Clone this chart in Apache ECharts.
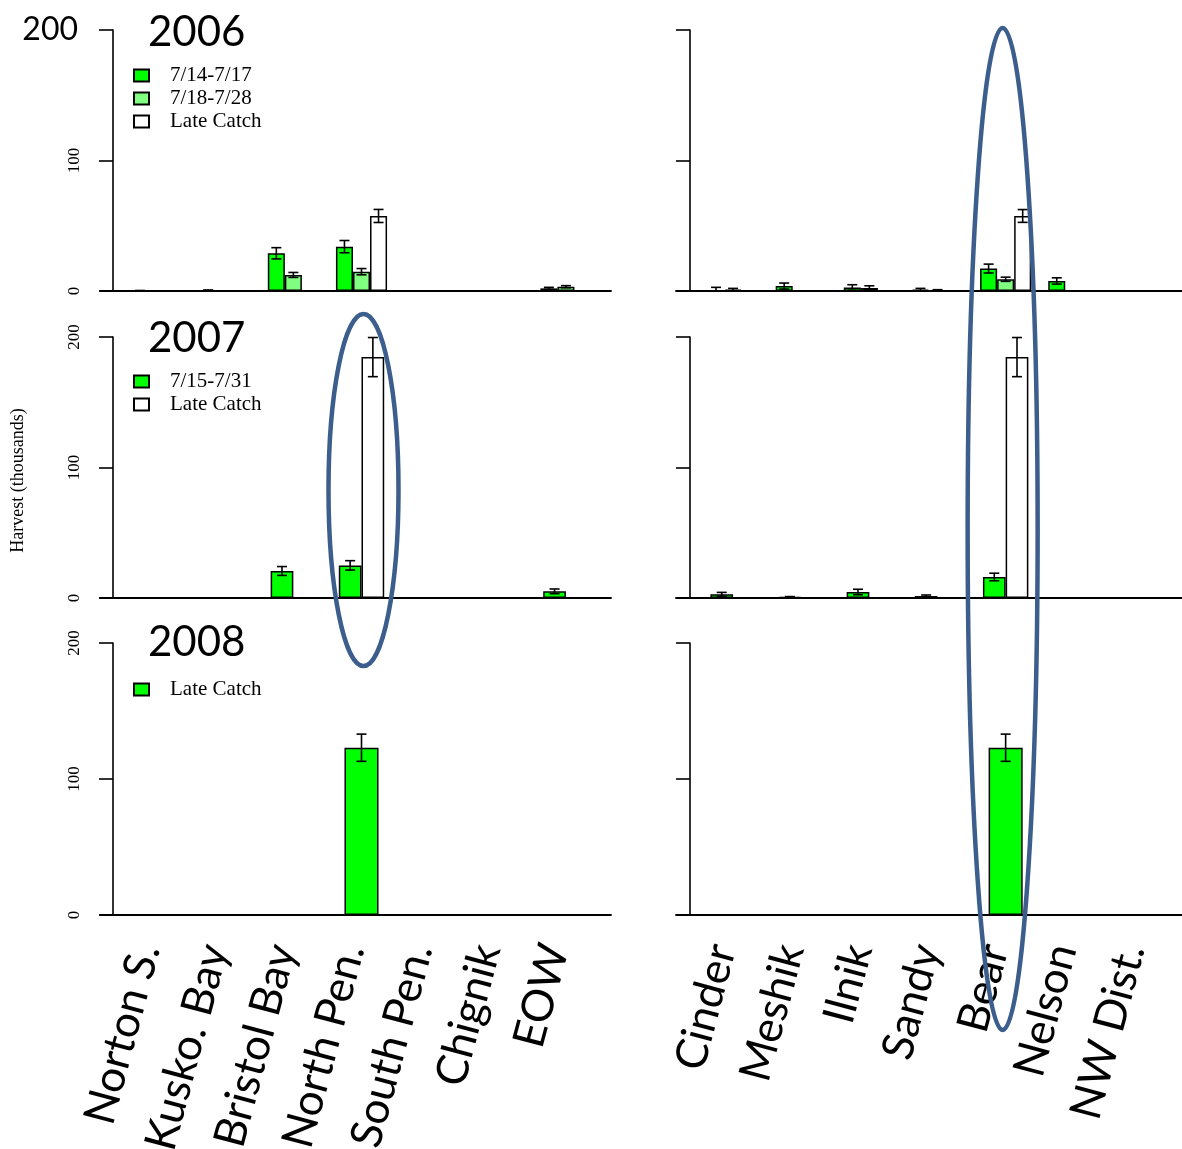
<!DOCTYPE html>
<html>
<head>
<meta charset="utf-8">
<script src="https://cdn.jsdelivr.net/npm/echarts@6/dist/echarts.min.js"></script>
<style>html,body{margin:0;padding:0;background:#fff}#c{width:1182px;height:1149px}</style>
</head>
<body>
<div id="c"></div>
<script>
// ---------- DATA ----------
const regionCats = ['Norton S.', 'Kusko. Bay', 'Bristol Bay', 'North Pen.', 'South Pen.', 'Chignik', 'EOW'];
const riverCats  = ['Cinder', 'Meshik', 'Ilnik', 'Sandy', 'Bear', 'Nelson', 'NW Dist.'];
const yTicks = [0, 100, 200];
const years = ['2006', '2007', '2008'];

// 2006 regions
const r06_a = [0.2, 0.5, 28.9, 34.0, 0.2, 0, 2.0];
const r06_aErr = [0.2, 0.3, 4.3, 4.7, 0, 0, 0.8];
const r06_b = [0.1, 0, 12.3, 14.8, 0.1, 0, 3.3];
const r06_bErr = [0, 0, 1.9, 2.4, 0, 0, 0.8];
const r06_late = [0.1, 0, 0, 57.5, 0, 0, 0];
const r06_lateErr = [0, 0, 0, 5.0, 0, 0, 0];
// 2006 rivers
const v06_a = [0.5, 3.8, 2.6, 1.0, 17.2, 7.7, 0];
const v06_aErr = [2.3, 2.3, 2.2, 1.0, 3.4, 2.4, 0];
const v06_b = [1.0, 0.3, 2.3, 0.5, 9.0, 0, 0];
const v06_bErr = [1.0, 0, 1.7, 0.5, 1.6, 0, 0];
const v06_late = [0, 0, 0, 0, 57.5, 0, 0];
const v06_lateErr = [0, 0, 0, 0, 4.9, 0, 0];
// 2007 regions
const r07_a = [0, 0.2, 20.7, 25.0, 0, 0, 5.1];
const r07_aErr = [0, 0, 3.4, 3.6, 0, 0, 1.8];
const r07_late = [0, 0, 0, 184.6, 0, 0, 0];
const r07_lateErr = [0, 0, 0, 15, 0, 0, 0];
// 2007 rivers
const v07_a = [2.8, 0.8, 4.6, 1.5, 16.1, 0.3, 0.2];
const v07_aErr = [1.5, 0.3, 2.1, 0.8, 2.9, 0, 0];
const v07_late = [0, 0, 0, 0, 184.6, 0, 0];
const v07_lateErr = [0, 0, 0, 0, 15, 0, 0];
// 2008
const r08_late = [0, 0, 0, 123, 0, 0, 0];
const r08_lateErr = [0, 0, 0, 10, 0, 0, 0];
const v08_late = [0, 0, 0, 0, 123, 0, 0];
const v08_lateErr = [0, 0, 0, 0, 10, 0, 0];

const GREEN = '#00FF00', LIGHT = '#80FF80', WHITE = '#FFFFFF';

const panels = [
  { year: '2006', groups: [
      { label: '7/14-7/17', color: GREEN, L: r06_a, Le: r06_aErr, R: v06_a, Re: v06_aErr },
      { label: '7/18-7/28', color: LIGHT, L: r06_b, Le: r06_bErr, R: v06_b, Re: v06_bErr },
      { label: 'Late Catch', color: WHITE, L: r06_late, Le: r06_lateErr, R: v06_late, Re: v06_lateErr } ] },
  { year: '2007', groups: [
      { label: '7/15-7/31', color: GREEN, L: r07_a, Le: r07_aErr, R: v07_a, Re: v07_aErr },
      { label: 'Late Catch', color: WHITE, L: r07_late, Le: r07_lateErr, R: v07_late, Re: v07_lateErr } ] },
  { year: '2008', groups: [
      { label: 'Late Catch', color: GREEN, L: r08_late, Le: r08_lateErr, R: v08_late, Re: v08_lateErr } ] }
];

// ---------- LAYOUT ----------
const rows = [ { top: 30, height: 261, legendTop: 64, titleTop: 11 },
               { top: 337, height: 261, legendTop: 370, titleTop: 317 },
               { top: 643, height: 272, legendTop: 678, titleTop: 621 } ];
const cols = [ { left: 123, width: 477, lineLeft: 100, lineWidth: 511, offset: 10, cats: regionCats, key: 'L' },
               { left: 699, width: 477, lineLeft: 676, lineWidth: 506, offset: 9, cats: riverCats, key: 'R' } ];

const SERIF = 'Liberation Serif';
const SANS = 'Lato';
const grid = [], xAxis = [], yAxis = [], series = [], legend = [], title = [];

function errSeries(idx, n, xi, yi, vals, errs) {
  return {
    type: 'custom', xAxisIndex: xi, yAxisIndex: yi, z: 10, silent: true,
    encode: { x: 0, y: 1 },
    data: vals.map((v, i) => [i, v, errs[i]]).filter(d => d[2] > 0),
    renderItem: function (params, api) {
      const i = api.value(0), v = api.value(1), e = api.value(2);
      const band = api.size([1, 0])[0];
      const bw = band / (n + 1);
      const x = api.coord([i, v])[0] + (idx - (n - 1) / 2) * bw;
      const yT = api.coord([i, v + e])[1];
      const yB = api.coord([i, Math.max(v - e, 0)])[1];
      const st = { stroke: '#000', lineWidth: 1.6 };
      const cap = 5;
      return { type: 'group', children: [
        { type: 'line', shape: { x1: x, y1: yT, x2: x, y2: yB }, style: st },
        { type: 'line', shape: { x1: x - cap, y1: yT, x2: x + cap, y2: yT }, style: st },
        { type: 'line', shape: { x1: x - cap, y1: yB, x2: x + cap, y2: yB }, style: st } ] };
    }
  };
}

rows.forEach((row, r) => {
  const panel = panels[r];
  const n = panel.groups.length;
  cols.forEach((col, c) => {
    const gi = grid.length;
    grid.push({ left: col.left, top: row.top, width: col.width, height: row.height,
      containLabel: false, outerBoundsMode: 'none' });
    xAxis.push({
      type: 'category', gridIndex: gi, data: col.cats,
      axisLine: { show: false }, axisTick: { show: false }, splitLine: { show: false },
      axisLabel: r === 2 ? { show: true, interval: 0, rotate: 75, margin: 33,
        verticalAlign: 'bottom', lineHeight: 22,
        fontFamily: SANS, fontSize: 44, color: '#000' } : { show: false }
    });
    const ya = {
      type: 'value', gridIndex: gi, position: 'left', min: 0, max: 200, interval: 100, offset: col.offset,
      axisLine: { show: true, lineStyle: { color: '#000', width: 1.6 } },
      axisTick: { show: true, length: 14, lineStyle: { color: '#000', width: 1.6 } },
      splitLine: { show: false },
      axisLabel: { show: c === 0, rotate: 90, margin: 30, fontFamily: SERIF, fontSize: 17, color: '#000',
        formatter: v => (r === 0 && v === 200) ? '' : String(v) }
    };
    if (r === 1 && c === 0) {
      ya.name = 'Harvest (thousands)';
      ya.nameLocation = 'middle';
      ya.nameGap = 86;
      ya.nameRotate = 90;
      ya.nameTextStyle = { fontFamily: SERIF, fontSize: 18, color: '#000', padding: [0, 26, 0, 0] };
    }
    const yi = yAxis.length;
    yAxis.push(ya);
    if (r === 0 && c === 0) {
      yAxis.push({
        type: 'value', gridIndex: gi, position: 'left', min: 0, max: 200, interval: 100, offset: col.offset,
        axisLine: { show: false }, axisTick: { show: false }, splitLine: { show: false },
        axisLabel: { show: true, margin: 35, fontFamily: SANS, fontSize: 32, color: '#000',
          formatter: v => v === 200 ? String(v) : '' }
      });
    }
    const xi = xAxis.length - 1;
    panel.groups.forEach((g, k) => {
      series.push({
        type: 'bar', name: panel.year + '|' + g.label, xAxisIndex: xi, yAxisIndex: yi,
        data: g[col.key], barGap: 0, barCategoryGap: (100 / (n + 1)) + '%',
        itemStyle: { color: g.color, borderColor: '#000', borderWidth: 1.5 },
        emphasis: { disabled: true }, animation: false
      });
      series.push(errSeries(k, n, xi, yi, g[col.key], g[col.key + 'e']));
    });
  });
  legend.push({
    orient: 'vertical', left: 133, top: row.legendTop, padding: 0, itemGap: 0,
    itemWidth: 15, itemHeight: 12, icon: 'rect',
    data: panel.groups.map(g => panel.year + '|' + g.label),
    formatter: name => name.split('|')[1],
    textStyle: { fontFamily: SERIF, fontSize: 21, color: '#000', lineHeight: 23, padding: [0, 0, 0, 16] },
    selectedMode: false
  });
  title.push({ text: panel.year, left: 148, top: row.titleTop, padding: 0,
    textStyle: { fontFamily: SANS, fontSize: 42, fontWeight: 'normal', color: '#000' } });
});

// baseline grids (x-axis lines spanning the full panel width)
rows.forEach((row) => {
  cols.forEach((col) => {
    const gi = grid.length;
    grid.push({ left: col.lineLeft, top: row.top, width: col.lineWidth, height: row.height,
      containLabel: false, outerBoundsMode: 'none' });
    xAxis.push({ type: 'value', gridIndex: gi, min: 0, max: 1,
      axisLine: { show: true, onZero: false, lineStyle: { color: '#000', width: 1.8 } },
      axisTick: { show: false }, axisLabel: { show: false }, splitLine: { show: false } });
    yAxis.push({ type: 'value', gridIndex: gi, min: 0, max: 1, show: false });
  });
});

const chart = echarts.init(document.getElementById('c'), null, { renderer: 'canvas' });
chart.setOption({ animation: false, backgroundColor: '#fff', grid, xAxis, yAxis, series, legend, title });

// annotation ellipses anchored to category centres
const np = chart.convertToPixel({ gridIndex: 2 }, ['North Pen.', 0]);
const bear = chart.convertToPixel({ gridIndex: 1 }, ['Bear', 0]);
chart.setOption({ graphic: [
  { type: 'ellipse', z: 100, silent: true, shape: { cx: np[0] + 2, cy: 490, rx: 35, ry: 176 },
    style: { fill: 'transparent', stroke: '#3B5E8C', lineWidth: 4.5 } },
  { type: 'ellipse', z: 100, silent: true, shape: { cx: bear[0] - 3, cy: 529, rx: 35, ry: 501 },
    style: { fill: 'transparent', stroke: '#3B5E8C', lineWidth: 4.5 } }
] });
</script>
</body>
</html>
